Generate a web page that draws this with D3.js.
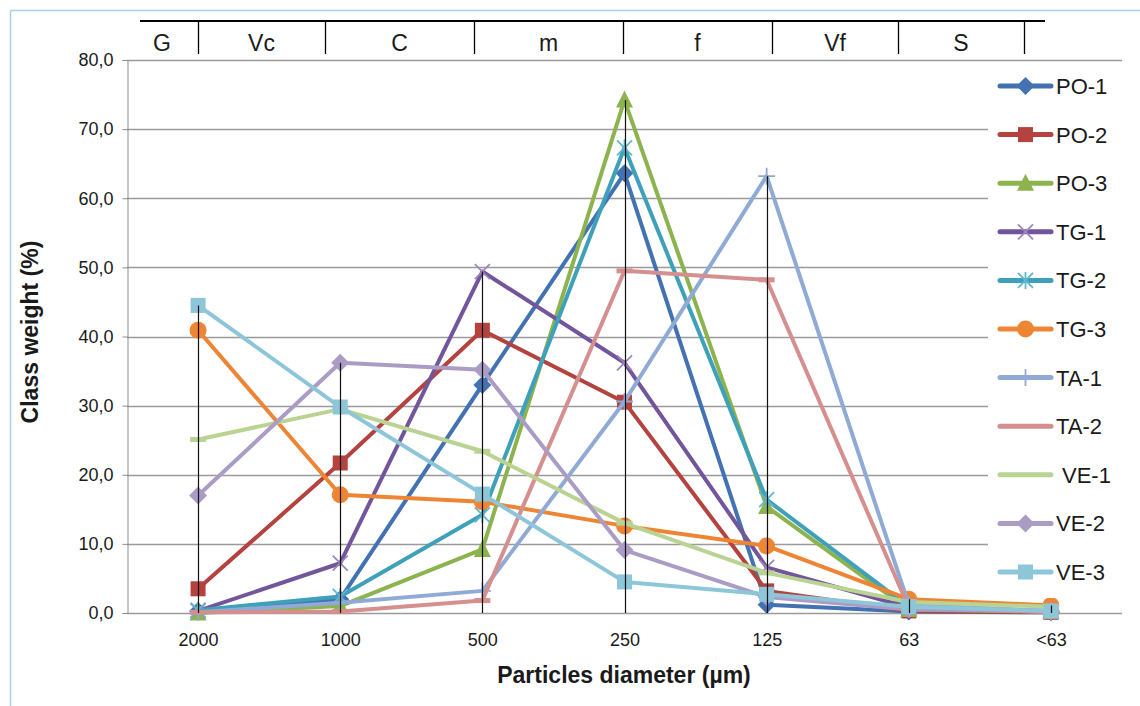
<!DOCTYPE html>
<html>
<head>
<meta charset="utf-8">
<script src="https://cdn.jsdelivr.net/npm/d3@7"></script>
<style>
  html, body { margin: 0; padding: 0; background: #fff; }
  svg { display: block; }
  text { font-family: "Liberation Sans", Arial, sans-serif; fill: #1a1a1a; }
</style>
</head>
<body>
<svg id="chart" width="1140" height="706"></svg>
<script>
// Particle-size classes (sieve openings, µm)
const categories = ["2000", "1000", "500", "250", "125", "63", "<63"];

// Class weight (%) per sample
const po1 = [0.3, 2.0, 33.0, 63.6, 1.2, 0.2, 0.1];
const po2 = [3.5, 21.7, 40.9, 30.5, 3.2, 0.3, 0.1];
const po3 = [0.0, 1.0, 9.2, 74.2, 15.4, 0.5, 0.2];
const tg1 = [0.3, 7.2, 49.4, 36.2, 6.6, 0.8, 0.2];
const tg2 = [0.4, 2.4, 14.2, 67.3, 16.4, 0.9, 0.3];
const tg3 = [40.9, 17.1, 16.1, 12.6, 9.7, 2.0, 1.1];
const ta1 = [0.1, 1.5, 3.2, 30.6, 63.2, 1.2, 0.3];
const ta2 = [0.1, 0.2, 1.8, 49.5, 48.2, 0.8, 0.1];
const ve1 = [25.1, 29.5, 23.4, 13.0, 5.8, 1.6, 0.9];
const ve2 = [17.0, 36.2, 35.2, 9.1, 2.3, 0.5, 0.3];
const ve3 = [44.5, 29.8, 17.2, 4.5, 2.7, 0.9, 0.3];

const seriesNames = ["PO-1", "PO-2", "PO-3", "TG-1", "TG-2", "TG-3", "TA-1", "TA-2", "VE-1", "VE-2", "VE-3"];
const seriesValues = [po1, po2, po3, tg1, tg2, tg3, ta1, ta2, ve1, ve2, ve3];

// Y axis ticks
const yTicks = [0, 10, 20, 30, 40, 50, 60, 70, 80];

// Grain-size class labels shown in the band above the plot
const sizeClasses = ["G", "Vc", "C", "m", "f", "Vf", "S"];

// ---- styling ----
const seriesStyle = [
  { color: "#4272B2", marker: "diamond" },
  { color: "#B4423F", marker: "square" },
  { color: "#8DB34E", marker: "triangle" },
  { color: "#72559A", marker: "x", markerColor: "#9D87BD" },
  { color: "#3FA0BA", marker: "star", markerColor: "#5FB6CE" },
  { color: "#EE8534", marker: "circle" },
  { color: "#90AAD6", marker: "plus" },
  { color: "#D48F8E", marker: "dash" },
  { color: "#BAD393", marker: "dash" },
  { color: "#AB9CC6", marker: "diamond" },
  { color: "#8DC6D8", marker: "square" }
];

const svg = d3.select("#chart");

// chart-area outline
svg.append("rect")
  .attr("x", 10.5).attr("y", 10.5)
  .attr("width", 1200).attr("height", 800)
  .attr("fill", "none").attr("stroke", "#A9D2E0").attr("stroke-width", 1.5);

const plot = { left: 127, right: 1122, top: 60, bottom: 613 };

const x = d3.scalePoint()
  .domain(categories)
  .range([plot.left, plot.right])
  .padding(0.5);

const y = d3.scaleLinear()
  .domain([0, 80])
  .range([plot.bottom, plot.top]);

const fmt = v => d3.format(".1f")(v).replace(".", ",");

// gridlines
svg.append("g")
  .selectAll("line")
  .data(yTicks)
  .join("line")
  .attr("x1", plot.left).attr("x2", plot.right)
  .attr("y1", d => Math.round(y(d)) + 0.5).attr("y2", d => Math.round(y(d)) + 0.5)
  .attr("stroke", "#9A9A9A").attr("stroke-width", 1.4);

// y axis
const yAxis = d3.axisLeft(y).tickValues(yTicks).tickFormat(fmt).tickSize(5).tickPadding(9);
const gy = svg.append("g")
  .attr("transform", `translate(${plot.left + 0.5},0)`)
  .call(yAxis);
gy.select(".domain").attr("stroke", "#8C8C8C");
gy.selectAll(".tick line").attr("stroke", "#8C8C8C");
gy.selectAll(".tick text")
  .attr("font-family", "Liberation Sans, Arial, sans-serif")
  .attr("font-size", 18).attr("fill", "#222");

// x axis labels
const xAxis = d3.axisBottom(x).tickSize(0).tickPadding(20);
const gx = svg.append("g")
  .attr("transform", `translate(0,${plot.bottom})`)
  .call(xAxis);
gx.select(".domain").remove();
gx.selectAll(".tick text")
  .attr("font-family", "Liberation Sans, Arial, sans-serif")
  .attr("font-size", 18).attr("fill", "#222");

// series lines
const line = d3.line()
  .x((d, i) => x(categories[i]))
  .y(d => y(d));

const seriesG = svg.append("g");

function drawMarker(g, type, cx, cy, color, scale) {
  const s = scale || 1;
  if (type === "diamond") {
    const r = 9 * s;
    g.append("path")
      .attr("d", `M${cx},${cy - r}L${cx + r},${cy}L${cx},${cy + r}L${cx - r},${cy}Z`)
      .attr("fill", color);
  } else if (type === "square") {
    const h = 7.5 * s;
    g.append("rect")
      .attr("x", cx - h).attr("y", cy - h)
      .attr("width", 2 * h).attr("height", 2 * h)
      .attr("fill", color);
  } else if (type === "triangle") {
    const h = 8.5 * s;
    g.append("path")
      .attr("d", `M${cx},${cy - h - 1}L${cx + h},${cy + h - 1}L${cx - h},${cy + h - 1}Z`)
      .attr("fill", color);
  } else if (type === "circle") {
    g.append("circle")
      .attr("cx", cx).attr("cy", cy).attr("r", 8.5 * s)
      .attr("fill", color);
  } else if (type === "x" || type === "star") {
    const r = 7.5 * s;
    g.append("path")
      .attr("d", `M${cx - r},${cy - r}L${cx + r},${cy + r}M${cx - r},${cy + r}L${cx + r},${cy - r}` +
        (type === "star" ? `M${cx},${cy - r - 1}L${cx},${cy + r + 1}` : ""))
      .attr("stroke", color).attr("stroke-width", 1.8).attr("fill", "none");
  } else if (type === "plus") {
    const r = 8.5 * s;
    g.append("path")
      .attr("d", `M${cx - r},${cy}L${cx + r},${cy}M${cx},${cy - r}L${cx},${cy + r}`)
      .attr("stroke", color).attr("stroke-width", 1.8).attr("fill", "none");
  } else if (type === "dash") {
    g.append("path")
      .attr("d", `M${cx - 8 * s},${cy}L${cx + 8 * s},${cy}`)
      .attr("stroke", color).attr("stroke-width", 5).attr("fill", "none");
  }
}

seriesValues.forEach((vals, si) => {
  const st = seriesStyle[si];
  const g = seriesG.append("g");
  g.append("path")
    .datum(vals)
    .attr("d", line)
    .attr("fill", "none")
    .attr("stroke", st.color)
    .attr("stroke-width", 4)
    .attr("stroke-linejoin", "round")
    .attr("stroke-linecap", "round");
  vals.forEach((v, i) => {
    drawMarker(g, st.marker, x(categories[i]), y(v), st.markerColor || st.color);
  });
});

// drop lines from the highest value of each class to the axis
const maxPerClass = categories.map((c, i) => d3.max(seriesValues, s => s[i]));
svg.append("g")
  .selectAll("line")
  .data(categories)
  .join("line")
  .attr("x1", d => Math.round(x(d)) + 0.5).attr("x2", d => Math.round(x(d)) + 0.5)
  .attr("y1", (d, i) => y(maxPerClass[i]))
  .attr("y2", plot.bottom)
  .attr("stroke", "#111").attr("stroke-width", 1.2);

// legend
const legend = svg.append("g");
legend.append("rect")
  .attr("x", 988).attr("y", 63).attr("width", 150).attr("height", 535)
  .attr("fill", "#fff");
seriesNames.forEach((name, i) => {
  const st = seriesStyle[i];
  const cy = 86 + i * 48.6;
  const g = legend.append("g");
  g.append("line")
    .attr("x1", 1000).attr("x2", 1051)
    .attr("y1", cy).attr("y2", cy)
    .attr("stroke", st.color).attr("stroke-width", 5)
    .attr("stroke-linecap", "round");
  if (st.marker !== "dash") {
    drawMarker(g, st.marker, 1025.5, cy, st.markerColor || st.color);
  }
  g.append("text")
    .attr("x", name === "VE-1" ? 1062 : 1056)
    .attr("y", cy)
    .attr("dy", "0.36em")
    .attr("font-size", 22)
    .text(name);
});

// size-class band above the plot
const band = svg.append("g");
const bandLeft = 140, bandRight = 1045, bandY = 21, bandBottom = 54;
const bandDividers = [198, 325, 474, 623, 772, 898, 1024];
band.append("line")
  .attr("x1", bandLeft).attr("x2", bandRight)
  .attr("y1", bandY).attr("y2", bandY)
  .attr("stroke", "#000").attr("stroke-width", 2.2);
band.selectAll(".div")
  .data(bandDividers)
  .join("line")
  .attr("x1", d => d + 0.5).attr("x2", d => d + 0.5)
  .attr("y1", bandY).attr("y2", bandBottom)
  .attr("stroke", "#000").attr("stroke-width", 1.3);
const bandCenters = [162].concat(bandDividers.slice(0, -1).map((d, i) => (d + bandDividers[i + 1]) / 2));
band.selectAll("text")
  .data(sizeClasses)
  .join("text")
  .attr("x", (d, i) => bandCenters[i])
  .attr("y", 43)
  .attr("text-anchor", "middle")
  .attr("dy", "0.36em")
  .attr("font-size", 23)
  .attr("fill", "#111")
  .text(d => d);

// axis titles
svg.append("text")
  .attr("x", 624).attr("y", 675)
  .attr("text-anchor", "middle").attr("dy", "0.36em")
  .attr("font-size", 23).attr("font-weight", "bold")
  .text("Particles diameter (µm)");

svg.append("text")
  .attr("transform", "translate(30,332) rotate(-90)")
  .attr("text-anchor", "middle").attr("dy", "0.36em")
  .attr("font-size", 23).attr("font-weight", "bold")
  .text("Class weight (%)");
</script>
</body>
</html>
